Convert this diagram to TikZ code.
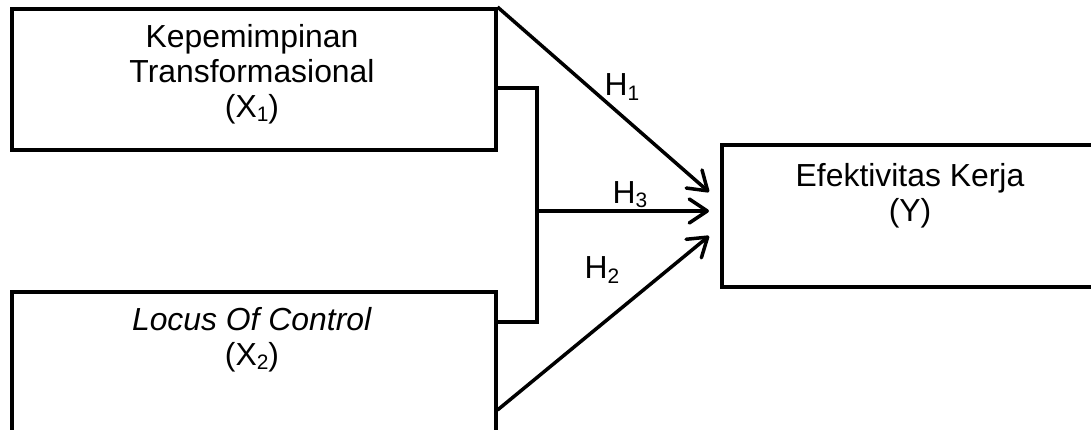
\documentclass[tikz,border=0pt]{standalone}
\usepackage{fontspec}
\setmainfont{Liberation Sans}
\usetikzlibrary{arrows.meta}
\newcommand{\mysub}[1]{\raisebox{-0.25ex}{\fontsize{21}{21}\selectfont #1}}
\begin{document}
\begin{tikzpicture}[x=1bp,y=-1bp, line width=3.5bp,
 box/.style={draw, line width=3.5bp, rectangle, inner sep=0pt, anchor=north west},
 lbl/.style={font=\fontsize{32}{35}\selectfont, align=center, inner sep=0pt},
 arr/.style={-{Straight Barb[length=18bp,width=24bp,line width=3.5bp,round]}}]
\useasboundingbox (0,0) rectangle (1091,429);
\node[box, minimum width=484bp, minimum height=141bp] (b1) at (10,7) {};
\node[box, minimum width=484bp, minimum height=150bp] (b2) at (10,290) {};
\node[box, minimum width=380bp, minimum height=142bp] (by) at (720,143) {};
\node[lbl] (t1) at (252,74) {Kepemimpinan\\Transformasional\\(X\mysub{1})};
\node[lbl] (t2) at (252,340) {\textit{Locus Of Control}\\(X\mysub{2})};
\node[lbl] (ty) at (910,196) {Efektivitas Kerja\\(Y)};
\coordinate (ja) at (537,88);
\coordinate (jm) at (537,211);
\coordinate (jb) at (537,322);
\coordinate (tip1) at (709,192);
\coordinate (tip3) at (709,211);
\coordinate (tip2) at (709,236);
\draw (b1.east |- ja) -- (ja) -- (jb) -- (b2.east |- jb);
\draw[arr] (b1.north east) -- (tip1);
\draw[arr] (jm) -- (tip3);
\draw[arr] (b2.east |- 0,410) -- (tip2);
\node[lbl] (h1) at (622,87) {H\mysub{1}};
\node[lbl] (h3) at (630,195) {H\mysub{3}};
\node[lbl] (h2) at (602,270) {H\mysub{2}};
\end{tikzpicture}
\end{document}
